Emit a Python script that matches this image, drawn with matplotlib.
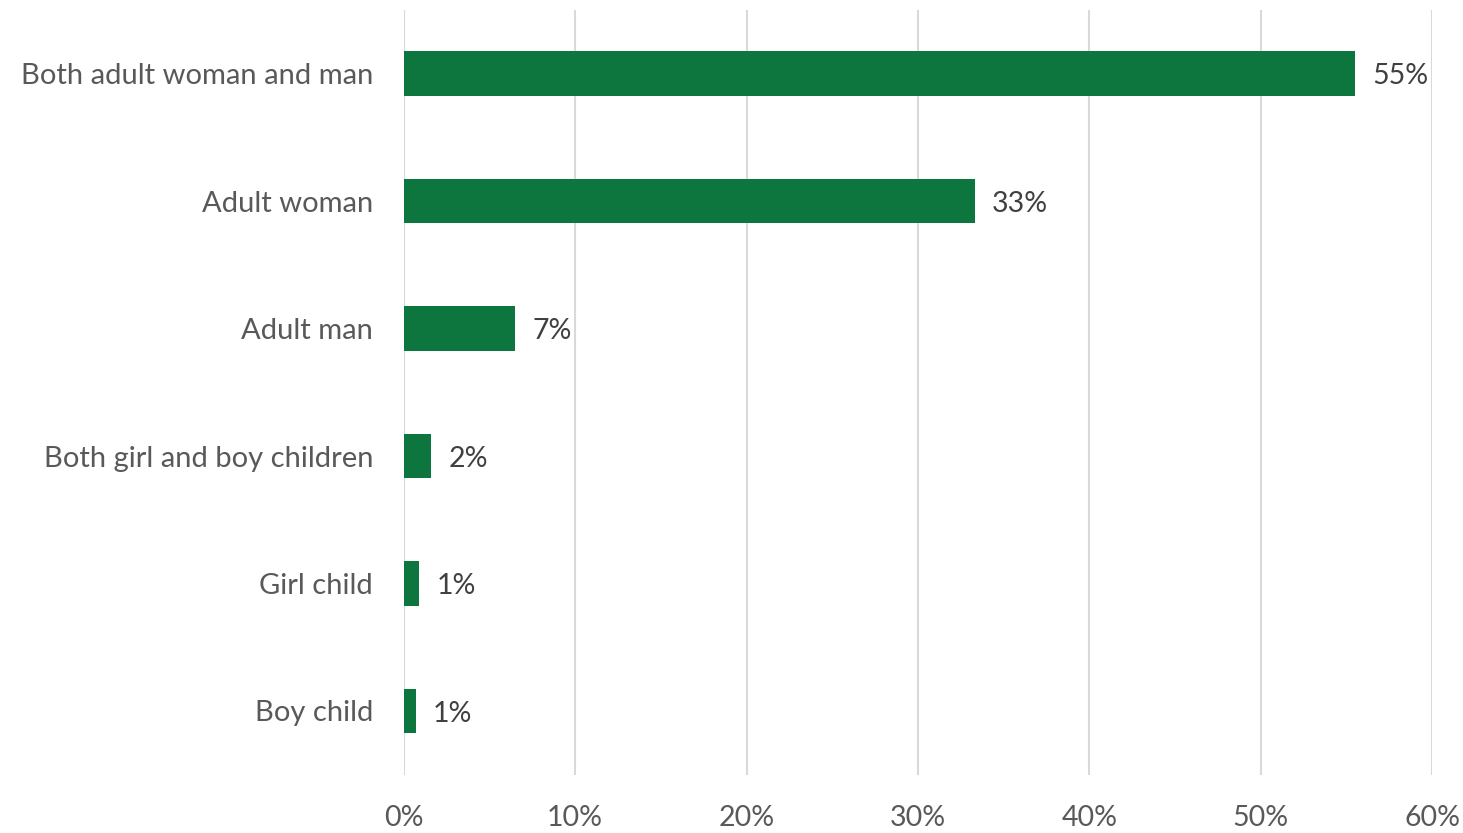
import matplotlib.pyplot as plt
import numpy as np

plt.rcParams['font.family'] = ['Lato', 'DejaVu Sans']

categories = ['Both adult woman and man', 'Adult woman', 'Adult man',
              'Both girl and boy children', 'Girl child', 'Boy child']
values = [55.5, 33.3, 6.5, 1.6, 0.9, 0.7]
labels = ['55%', '33%', '7%', '2%', '1%', '1%']
ticks = [0, 10, 20, 30, 40, 50, 60]

fig = plt.figure(figsize=(14.63, 8.33), dpi=100)
ax = fig.add_axes([0.276, 0.07, 0.703, 0.918])

y = np.arange(len(categories))
ax.barh(y, values, height=0.35, color='#0C763E', zorder=3)
for yi, v, lab in zip(y, values, labels):
    ax.text(v + 1.0, yi + 0.02, lab, va='center', ha='left', fontsize=20.5, color='#404040')

ax.set_ylim(len(categories) - 0.5, -0.5)
ax.set_yticks(y)
ax.set_yticklabels(categories, fontsize=21, color='#595959')
ax.set_xlim(0, 60)
ax.set_xticks(ticks)
ax.set_xticklabels([f'{t}%' for t in ticks], fontsize=20.5, color='#595959')
ax.xaxis.grid(True, color='#D9D9D9', linewidth=1.5, zorder=0)
ax.tick_params(axis='both', length=0)
ax.tick_params(axis='y', pad=22)
ax.tick_params(axis='x', pad=22)
for s in ax.spines.values():
    s.set_visible(False)

fig.savefig('out.png', dpi=100)
